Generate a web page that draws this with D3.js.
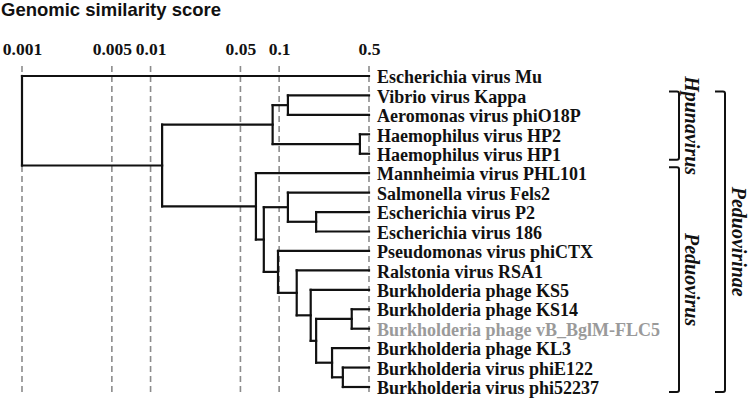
<!DOCTYPE html>
<html>
<head>
<meta charset="utf-8">
<script src="https://cdn.jsdelivr.net/npm/d3@7"></script>
<style>
  body { margin: 0; background: #fff; }
  svg { display: block; }
</style>
</head>
<body>
<svg id="chart" width="750" height="401"></svg>
<script>
// ---- data ----
const leaves = [
  "Escherichia virus Mu",
  "Vibrio virus Kappa",
  "Aeromonas virus phiO18P",
  "Haemophilus virus HP2",
  "Haemophilus virus HP1",
  "Mannheimia virus PHL101",
  "Salmonella virus Fels2",
  "Escherichia virus P2",
  "Escherichia virus 186",
  "Pseudomonas virus phiCTX",
  "Ralstonia virus RSA1",
  "Burkholderia phage KS5",
  "Burkholderia phage KS14",
  "Burkholderia phage vB_BglM-FLC5",
  "Burkholderia phage KL3",
  "Burkholderia virus phiE122",
  "Burkholderia virus phi52237"
];
const highlightLeaf = "Burkholderia phage vB_BglM-FLC5";
const leafScore = 0.5;

const nodeIds = ["root","A","B","C","D","E","F","G","H","I","J","K","L","M","N","O"];
const nodeScores = [0.001, 0.0123, 0.089, 0.117, 0.425, 0.066, 0.076, 0.117, 0.194, 0.098, 0.137, 0.176, 0.194, 0.367, 0.258, 0.313];
const nodeChildren = [
  ["Escherichia virus Mu", "A"],
  ["B", "E"],
  ["C", "D"],
  ["Vibrio virus Kappa", "Aeromonas virus phiO18P"],
  ["Haemophilus virus HP2", "Haemophilus virus HP1"],
  ["Mannheimia virus PHL101", "F"],
  ["G", "I"],
  ["Salmonella virus Fels2", "H"],
  ["Escherichia virus P2", "Escherichia virus 186"],
  ["Pseudomonas virus phiCTX", "J"],
  ["Ralstonia virus RSA1", "K"],
  ["Burkholderia phage KS5", "L"],
  ["M", "N"],
  ["Burkholderia phage KS14", "Burkholderia phage vB_BglM-FLC5"],
  ["Burkholderia phage KL3", "O"],
  ["Burkholderia virus phiE122", "Burkholderia virus phi52237"]
];

const tickValues = [0.001, 0.005, 0.01, 0.05, 0.1, 0.5];
const tickLabels = ["0.001", "0.005", "0.01", "0.05", "0.1", "0.5"];

const groups = [
  { name: "Hpunavirus", first: "Vibrio virus Kappa", last: "Haemophilus virus HP1", level: 0 },
  { name: "Peduovirus", first: "Mannheimia virus PHL101", last: "Burkholderia virus phi52237", level: 0 },
  { name: "Peduovirinae", first: "Vibrio virus Kappa", last: "Burkholderia virus phi52237", level: 1 }
];

const title = "Genomic similarity score";

// ---- scales ----
const svg = d3.select("#chart");
const x = d3.scaleLog().domain([0.001, 0.5]).range([22, 369]);
const y = d3.scalePoint().domain(leaves).range([76, 387]);

// build tree positions
const nodeMap = new Map();
nodeIds.forEach((id, i) => nodeMap.set(id, { id, score: nodeScores[i], children: nodeChildren[i] }));
function pos(id) {
  if (nodeMap.has(id)) {
    const n = nodeMap.get(id);
    if (n.y === undefined) {
      const ys = n.children.map(c => pos(c).y);
      n.y = (ys[0] + ys[ys.length - 1]) / 2;
      n.ys = ys;
    }
    return { x: x(n.score), y: n.y };
  }
  return { x: x(leafScore), y: y(id) };
}
pos("root");

// ---- title ----
svg.append("text")
  .attr("x", 1).attr("y", 16)
  .attr("font-family", "Liberation Sans, Arial, sans-serif")
  .attr("font-weight", "bold")
  .attr("font-size", 18.5)
  .attr("fill", "#111")
  .text(title);

// ---- gridlines ----
svg.append("g").selectAll("line")
  .data(tickValues).join("line")
  .attr("x1", d => x(d)).attr("x2", d => x(d))
  .attr("y1", 66).attr("y2", 396)
  .attr("stroke", "#8c8c8c")
  .attr("stroke-width", 1.6)
  .attr("stroke-dasharray", "6,4");

// ---- axis labels ----
const axis = d3.axisTop(x)
  .tickValues(tickValues)
  .tickFormat((d, i) => tickLabels[i])
  .tickSize(0).tickPadding(0);
const ag = svg.append("g").attr("transform", "translate(0,55)").call(axis);
ag.select(".domain").remove();
ag.selectAll("text")
  .attr("font-family", "Liberation Serif, Times New Roman, serif")
  .attr("font-weight", "bold")
  .attr("font-size", 17.5)
  .attr("fill", "#111");

// ---- tree ----
const tree = svg.append("g")
  .attr("fill", "none")
  .attr("stroke", "#111")
  .attr("stroke-width", 2.2)
  .attr("stroke-linecap", "square");

nodeIds.forEach(id => {
  const n = nodeMap.get(id);
  const nx = x(n.score);
  tree.append("line")
    .attr("x1", nx).attr("x2", nx)
    .attr("y1", n.ys[0]).attr("y2", n.ys[n.ys.length - 1]);
  n.children.forEach(c => {
    const p = pos(c);
    tree.append("line")
      .attr("x1", nx).attr("x2", p.x)
      .attr("y1", p.y).attr("y2", p.y);
  });
});

// ---- leaf labels ----
svg.append("g").selectAll("text")
  .data(leaves).join("text")
  .attr("x", x(leafScore) + 8)
  .attr("y", d => y(d))
  .attr("dy", "0.4em")
  .attr("font-family", "Liberation Serif, Times New Roman, serif")
  .attr("font-weight", "bold")
  .attr("font-size", 18)
  .attr("fill", d => d === highlightLeaf ? "#9a9a9a" : "#111")
  .text(d => d);

// ---- group brackets ----
const bracketX = [679, 725];
const labelX = [692, 739];
const bg = svg.append("g");
groups.forEach(g => {
  let y1 = y(g.first) - 4, y2 = y(g.last) + 5;
  if (g.name === "Hpunavirus") { y2 = y(g.last) + 6; }
  if (g.name === "Peduovirus") { y1 = y(g.first) - 6; }
  const bx = bracketX[g.level];
  bg.append("path")
    .attr("d", `M${bx - 10},${y1} L${bx - 2},${y1} Q${bx},${y1} ${bx},${y1 + 2} L${bx},${y2 - 2} Q${bx},${y2} ${bx - 2},${y2} L${bx - 10},${y2}`)
    .attr("fill", "none")
    .attr("stroke", "#111")
    .attr("stroke-width", 2);
  const cy = (y1 + y2) / 2;
  bg.append("text")
    .attr("transform", `translate(${labelX[g.level]},${cy}) rotate(90)`)
    .attr("text-anchor", "middle")
    .attr("dominant-baseline", "central")
    .attr("font-family", "Liberation Serif, Times New Roman, serif")
    .attr("font-weight", "bold")
    .attr("font-style", "italic")
    .attr("font-size", 20)
    .attr("fill", "#111")
    .text(g.name);
});
</script>
</body>
</html>
